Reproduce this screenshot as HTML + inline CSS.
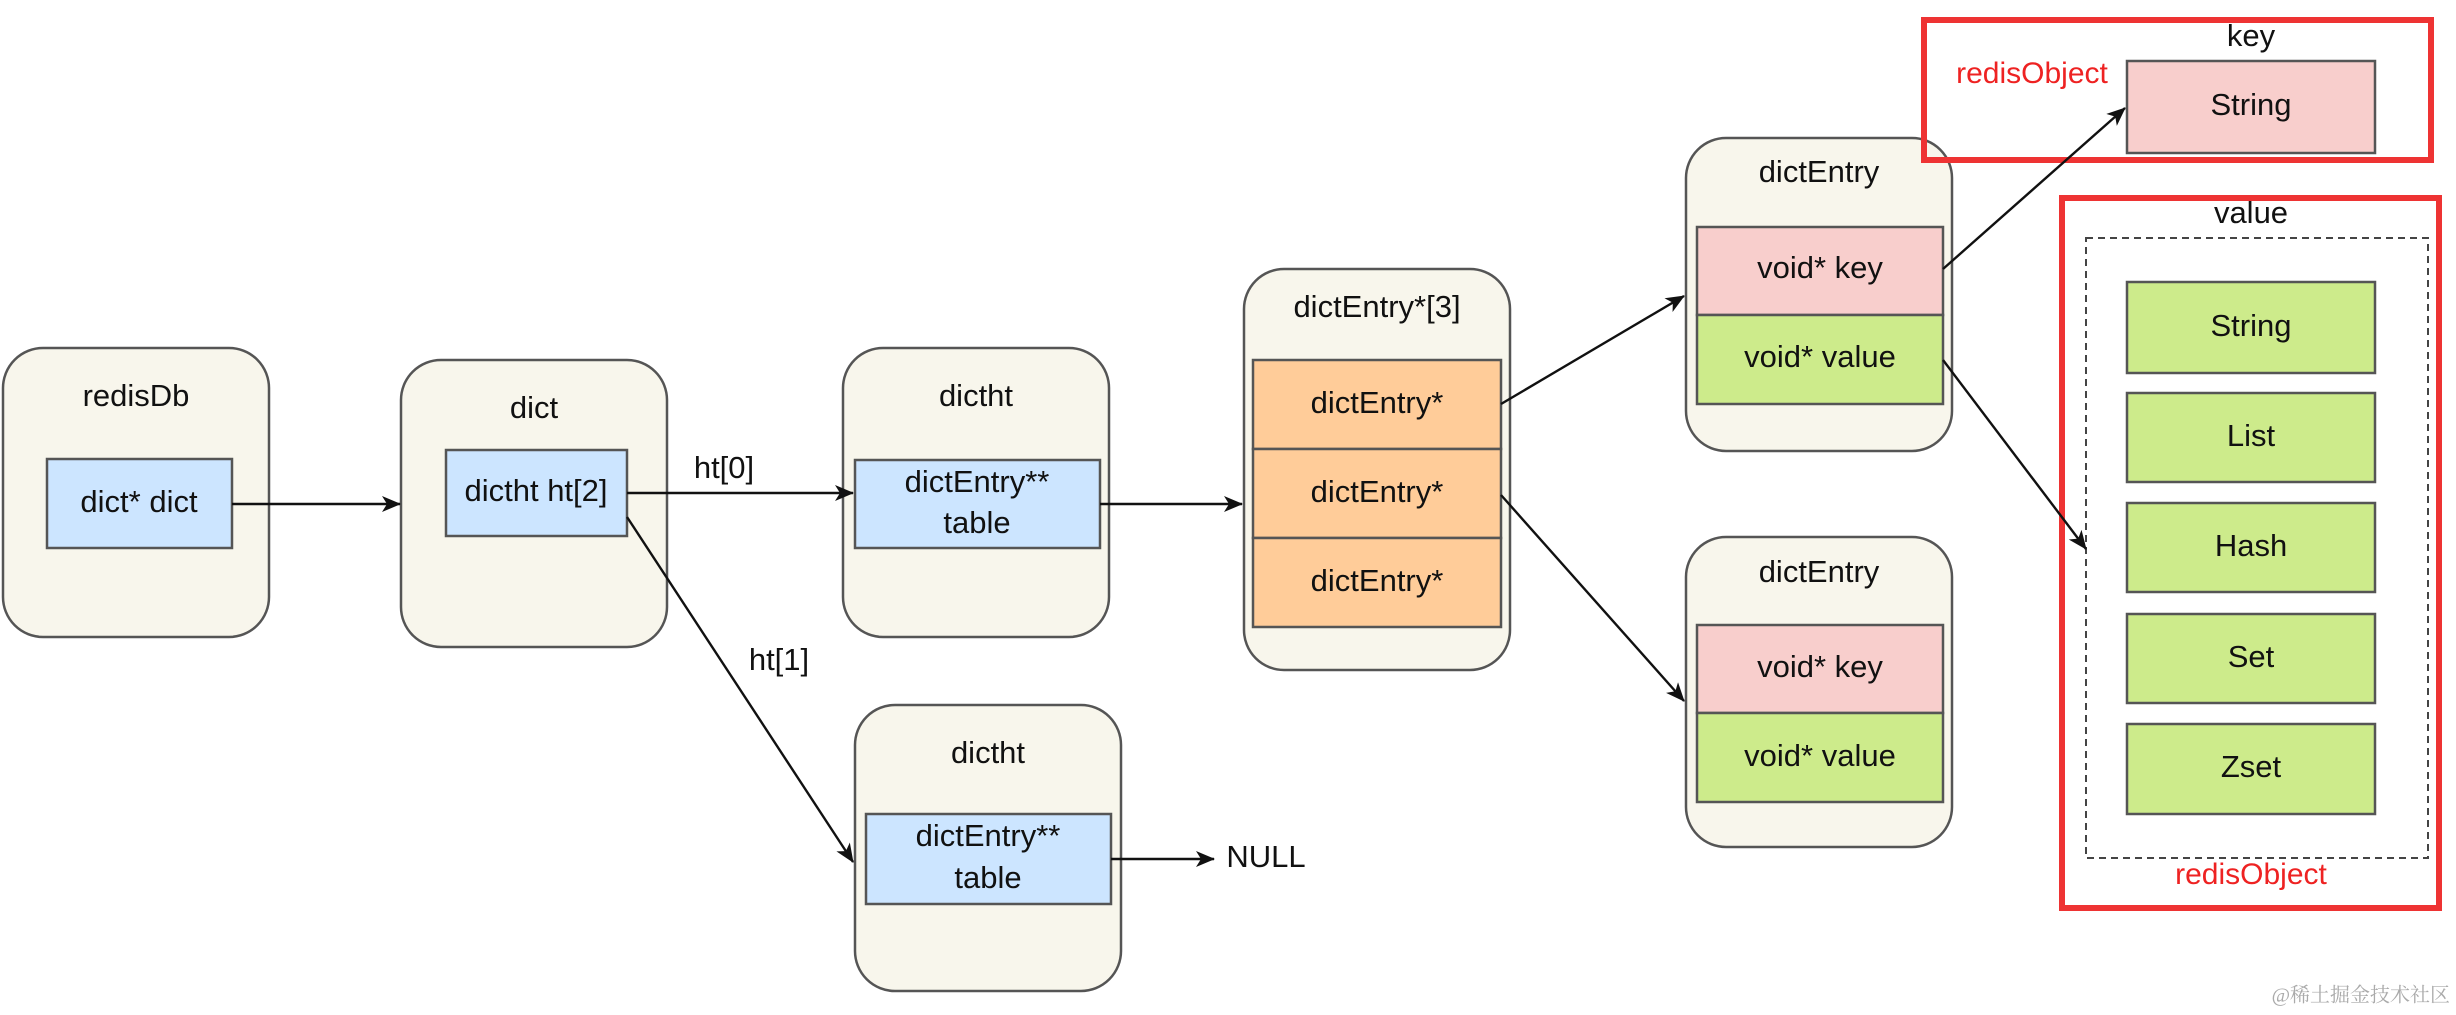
<!DOCTYPE html>
<html><head><meta charset="utf-8"><style>
html,body{margin:0;padding:0;background:#fff;}
svg{display:block;}
text{font-family:"Liberation Sans",Arial,sans-serif;font-size:31px;fill:#111;text-anchor:middle;dominant-baseline:middle;}
.c{fill:#f8f6ec;stroke:#555;stroke-width:2.5;}
.b{fill:#cce5ff;stroke:#555;stroke-width:2.5;}
.p{fill:#f8cecc;stroke:#555;stroke-width:2.5;}
.g{fill:#cdeb8b;stroke:#555;stroke-width:2.5;}
.o{fill:#ffcc99;stroke:#555;stroke-width:2.5;}
.l{stroke:#111;stroke-width:2.4;fill:none;marker-end:url(#a);}
.r{fill:none;stroke:#ee3333;stroke-width:6;}
.rt{fill:#ee2222;font-size:30px;}
</style></head><body>
<svg width="2456" height="1015" viewBox="0 0 2456 1015" xmlns="http://www.w3.org/2000/svg">
<defs><marker id="a" markerWidth="20" markerHeight="20" refX="18" refY="8" orient="auto" markerUnits="userSpaceOnUse"><path d="M0,0 L19,8 L0,16 L5,8 Z" fill="#111"/></marker></defs>

<rect class="c" x="3" y="348" width="266" height="289" rx="40"/>
<text x="136" y="398">redisDb</text>
<rect class="b" x="47" y="459" width="185" height="89"/>
<text x="139" y="504">dict* dict</text>

<rect class="c" x="401" y="360" width="266" height="287" rx="40"/>
<text x="534" y="410">dict</text>
<rect class="b" x="446" y="450" width="181" height="86"/>
<text x="536" y="493">dictht ht[2]</text>

<rect class="c" x="843" y="348" width="266" height="289" rx="40"/>
<text x="976" y="398">dictht</text>
<rect class="b" x="855" y="460" width="245" height="88"/>
<text x="977" y="484">dictEntry**</text>
<text x="977" y="525">table</text>

<rect class="c" x="855" y="705" width="266" height="286" rx="40"/>
<text x="988" y="755">dictht</text>
<rect class="b" x="866" y="814" width="245" height="90"/>
<text x="988" y="838">dictEntry**</text>
<text x="988" y="880">table</text>
<text x="1266" y="859">NULL</text>

<rect class="c" x="1244" y="269" width="266" height="401" rx="40"/>
<text x="1377" y="309">dictEntry*[3]</text>
<rect class="o" x="1253" y="360" width="248" height="89"/>
<rect class="o" x="1253" y="449" width="248" height="89"/>
<rect class="o" x="1253" y="538" width="248" height="89"/>
<text x="1377" y="405">dictEntry*</text>
<text x="1377" y="494">dictEntry*</text>
<text x="1377" y="583">dictEntry*</text>

<rect class="c" x="1686" y="138" width="266" height="313" rx="40"/>
<text x="1819" y="174">dictEntry</text>
<rect class="p" x="1697" y="227" width="246" height="88"/>
<rect class="g" x="1697" y="315" width="246" height="89"/>
<text x="1820" y="270">void* key</text>
<text x="1820" y="359">void* value</text>

<rect class="c" x="1686" y="537" width="266" height="310" rx="40"/>
<text x="1819" y="574">dictEntry</text>
<rect class="p" x="1697" y="625" width="246" height="88"/>
<rect class="g" x="1697" y="713" width="246" height="89"/>
<text x="1820" y="669">void* key</text>
<text x="1820" y="758">void* value</text>

<rect class="r" x="1924" y="20" width="507" height="140"/>
<text x="2251" y="38">key</text>
<text class="rt" x="2032" y="75">redisObject</text>
<rect class="p" x="2127" y="61" width="248" height="92"/>
<text x="2251" y="107">String</text>

<rect class="r" x="2062" y="198" width="377" height="710"/>
<text x="2251" y="215">value</text>
<rect x="2086" y="238" width="342" height="620" fill="none" stroke="#444" stroke-width="2" stroke-dasharray="7,5"/>
<rect class="g" x="2127" y="282" width="248" height="91"/><text x="2251" y="328">String</text>
<rect class="g" x="2127" y="393" width="248" height="89"/><text x="2251" y="438">List</text>
<rect class="g" x="2127" y="503" width="248" height="89"/><text x="2251" y="548">Hash</text>
<rect class="g" x="2127" y="614" width="248" height="89"/><text x="2251" y="659">Set</text>
<rect class="g" x="2127" y="724" width="248" height="90"/><text x="2251" y="769">Zset</text>
<text class="rt" x="2251" y="876">redisObject</text>

<line class="l" x1="232" y1="504" x2="400" y2="504"/>
<line class="l" x1="627" y1="493" x2="853" y2="493"/>
<text x="724" y="470">ht[0]</text>
<line class="l" x1="627" y1="517" x2="853" y2="862"/>
<text x="779" y="662">ht[1]</text>
<line class="l" x1="1100" y1="504" x2="1242" y2="504"/>
<line class="l" x1="1111" y1="859" x2="1214" y2="859"/>
<line class="l" x1="1501" y1="404" x2="1684" y2="296"/>
<line class="l" x1="1501" y1="495" x2="1684" y2="701"/>
<line class="l" x1="1943" y1="269" x2="2125" y2="108"/>
<line class="l" x1="1943" y1="360" x2="2086" y2="549"/>

<text x="2450" y="997" style="font-size:20px;fill:#aaa;text-anchor:end;font-family:'Liberation Serif','Noto Serif CJK SC',serif">@稀土掘金技术社区</text>
</svg>
</body></html>
